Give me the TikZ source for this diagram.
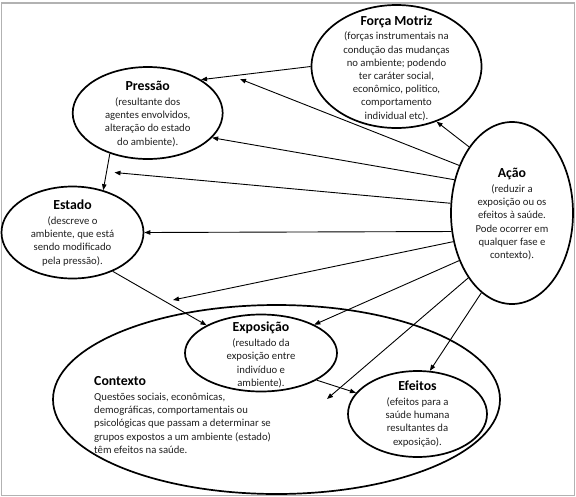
\documentclass[tikz,border=0pt]{standalone}
\usepackage{fontspec}
\setmainfont{Carlito}
\usetikzlibrary{shapes.geometric,arrows.meta}
\tikzset{
  ell/.style={draw=black, ellipse, line width=1.7pt, inner sep=0pt},
  txt/.style={align=center, inner sep=0pt, text=black!88,
    font=\fontsize{10.7}{13.2}\selectfont},
  arr/.style={draw=black, line width=0.9pt, -{Triangle[length=6pt,width=4.5pt]}},
}
\newcommand{\ttl}[1]{{\fontsize{13.8}{15}\selectfont\bfseries\color{black}#1}}
\begin{document}
\begin{tikzpicture}[x=1pt,y=-1pt]
\useasboundingbox (0,0) rectangle (576,496);
\draw[gray!60, line width=1.2pt] (1.5,3) rectangle (574.5,495.5);

% ellipses
\node[ell, minimum width=447pt, minimum height=189pt] (ctx) at (276.5,399.5) {};
\node[ell, minimum width=170pt, minimum height=123pt] (fm) at (396.5,66.5) {};
\node[ell, minimum width=150pt, minimum height=92pt] (pre) at (147.7,113) {};
\node[ell, minimum width=142pt, minimum height=92pt] (est) at (72.5,232.5) {};
\node[ell, minimum width=122pt, minimum height=182pt] (aca) at (512,213) {};
\node[ell, minimum width=152pt, minimum height=77pt] (exp) at (261,353) {};
\node[ell, minimum width=139pt, minimum height=86pt] (efe) at (417.5,414) {};

% texts
\node[txt] (fmt) at (396.5,68) {\ttl{Força Motriz}\\[1.5pt](forças instrumentais na\\condução das mudanças\\no ambiente; podendo\\ter caráter social,\\econômico, politico,\\comportamento\\individual etc).};
\node[txt] (pret) at (147.7,114) {\ttl{Pressão}\\[1.5pt](resultante dos\\agentes envolvidos,\\alteração do estado\\do ambiente).};
\node[txt] (estt) at (72.5,233) {\ttl{Estado}\\[1.5pt](descreve o\\ambiente, que está\\sendo modificado\\pela pressão).};
\node[txt] (acat) at (512,214) {\ttl{Ação}\\[2pt](reduzir a\\exposição ou os\\efeitos à saúde.\\Pode ocorrer em\\qualquer fase e\\contexto).};
\node[txt] (expt) at (261,355) {\ttl{Exposição}\\[1.5pt](resultado da\\exposição entre\\indivíduo e\\ambiente).};
\node[txt] (efet) at (417.5,414) {\ttl{Efeitos}\\[1.5pt](efeitos para a\\saúde humana\\resultantes da\\exposição).};
\node[txt, align=left, anchor=north west] (ctxt) at (94,376) {\ttl{Contexto}\\[2pt]Questões sociais, econômicas,\\demográficas, comportamentais ou\\psicológicas que passam a determinar se\\grupos expostos a um ambiente (estado)\\têm efeitos na saúde.};

% free ends on other arrows
\coordinate (tFP) at (240,79);
\coordinate (tPE) at (114.5,172.5);
\coordinate (tEX) at (173,300);
\coordinate (tXF) at (327,399);

% main chain
\draw[arr] (fm.180) -- (pre.32);
\draw[arr] (pre.227.5) -- (est.54);
\draw[arr] (est.316.5) -- (exp.153);
\draw[arr] (exp.-26.6) -- (efe.161);

% from Ação
\draw[arr] (aca.123) -- (fm.-54);
\draw[arr] (aca.138.4) -- (tFP);
\draw[arr] (aca.150.4) -- (pre.-21);
\draw[arr] (aca.171) -- (tPE);
\draw[arr] (aca.197.3) -- (est.0);
\draw[arr] (aca.206.2) -- (tEX);
\draw[arr] (aca.222) -- (exp.28);
\draw[arr] (aca.236) -- (tXF);
\draw[arr] (aca.249.4) -- (efe.74.5);
\end{tikzpicture}
\end{document}
